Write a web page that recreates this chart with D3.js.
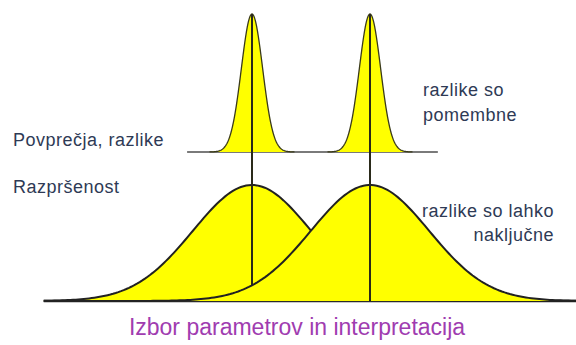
<!DOCTYPE html>
<html>
<head>
<meta charset="utf-8">
<script src="https://cdn.jsdelivr.net/npm/d3@7"></script>
<style>
  body { margin: 0; background: #fff; }
  svg { display: block; font-family: "Liberation Sans", Arial, sans-serif; }
</style>
</head>
<body>
<script>
/* Parameters of the two pairs of distributions (same means, different spread) */
var means = [4, 6];
var narrowSd = [0.18, 0.18];
var wideSd = [1.0, 1.0];

/* Text labels */
var labelsLeft = ["Povprečja, razlike", "Razpršenost"];
var labelsTopRight = ["razlike so", "pomembne"];
var labelsBottomRight = ["razlike so lahko", "naključne"];
var title = "Izbor parametrov in interpretacija";

var width = 576, height = 345;

var svg = d3.select("body").append("svg")
    .attr("width", width)
    .attr("height", height);

/* shared horizontal scale, two vertical scales (top panel, bottom panel) */
var x = d3.scaleLinear().domain([0, 10]).range([16, 606]);
var yTop = d3.scaleLinear().domain([0, 1]).range([152, 14]);
var yBot = d3.scaleLinear().domain([0, 1]).range([301, 185]);

function gauss(m, s) {
    return function(v) { return Math.exp(-0.5 * Math.pow((v - m) / s, 2)); };
}

function curvePoints(m, s, lo, hi) {
    var f = gauss(m, s);
    return d3.range(lo, hi + 1e-9, (hi - lo) / 200).map(function(v) { return {x: v, y: f(v)}; });
}

var areaTop = d3.area().x(function(d) { return x(d.x); }).y0(yTop(0)).y1(function(d) { return yTop(d.y); });
var lineTop = d3.line().x(function(d) { return x(d.x); }).y(function(d) { return yTop(d.y); });
var areaBot = d3.area().x(function(d) { return x(d.x); }).y0(yBot(0)).y1(function(d) { return yBot(d.y); });
var lineBot = d3.line().x(function(d) { return x(d.x); }).y(function(d) { return yBot(d.y); });

/* top panel baseline */
svg.append("line")
    .attr("x1", x(2.9)).attr("x2", x(7.15))
    .attr("y1", yTop(0)).attr("y2", yTop(0))
    .attr("stroke", "#7a7a7a").attr("stroke-width", 2);

/* top narrow curves */
means.forEach(function(m, i) {
    var pts = curvePoints(m, narrowSd[i], m - 4 * narrowSd[i], m + 4 * narrowSd[i]);
    svg.append("path").attr("d", areaTop(pts)).attr("fill", "#ffff00");
    svg.append("path").attr("d", lineTop(pts)).attr("fill", "none")
        .attr("stroke", "#3a3a1a").attr("stroke-width", 1.3);
});

/* bottom baseline */
svg.append("line")
    .attr("x1", x(0.47)).attr("x2", x(9.5))
    .attr("y1", yBot(0)).attr("y2", yBot(0))
    .attr("stroke", "#2a2a2a").attr("stroke-width", 2.5);

/* bottom wide curves, each with its mean line running from the top peak down */
means.forEach(function(m, i) {
    var pts = curvePoints(m, wideSd[i], 0.47, 9.5);
    svg.append("path").attr("d", areaBot(pts)).attr("fill", "#ffff00");
    svg.append("path").attr("d", lineBot(pts)).attr("fill", "none")
        .attr("stroke", "#222").attr("stroke-width", 2);
    svg.append("line")
        .attr("x1", x(m)).attr("x2", x(m))
        .attr("y1", yTop(1)).attr("y2", yBot(0))
        .attr("stroke", "#2a2a1a").attr("stroke-width", 2);
});

var textColor = "#2e3a55";

function label(t, px, py, anchor) {
    svg.append("text").attr("x", px).attr("y", py)
        .attr("text-anchor", anchor || "start")
        .attr("font-size", 18).attr("letter-spacing", 0.5)
        .attr("fill", textColor).text(t);
}

label(labelsLeft[0], 13, 146);
label(labelsLeft[1], 13, 193);

labelsTopRight.forEach(function(t, i) { label(t, 423, 96 + i * 25); });
labelsBottomRight.forEach(function(t, i) { label(t, 554, 217 + i * 24, "end"); });

svg.append("text").attr("x", 297).attr("y", 335)
    .attr("text-anchor", "middle")
    .attr("font-size", 23).attr("fill", "#a03cb0").text(title);
</script>
</body>
</html>
